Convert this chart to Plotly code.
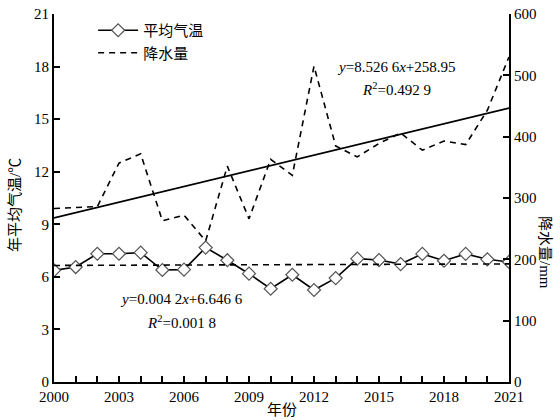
import plotly.graph_objects as go

years = [2000, 2001, 2002, 2003, 2004, 2005, 2006, 2007, 2008, 2009, 2010,
         2011, 2012, 2013, 2014, 2015, 2016, 2017, 2018, 2019, 2020, 2021]
temperature = [6.37, 6.56, 7.32, 7.32, 7.38, 6.39, 6.41, 7.67, 6.95, 6.18, 5.32,
               6.12, 5.25, 5.93, 7.04, 6.96, 6.73, 7.31, 6.92, 7.31, 7.00, 6.85]
precipitation = [283, 284, 286, 357, 372, 263, 272, 230, 352, 266, 363,
                 337, 515, 385, 367, 389, 406, 378, 393, 387, 443, 530]

# fitted trend equations shown on the chart (x = 1 for 2000)
temp_slope, temp_intercept = 0.0042, 6.6466
prec_slope, prec_intercept = 8.5266, 258.95

idx = [y - years[0] + 1 for y in years]
temp_trend = [temp_slope * i + temp_intercept for i in idx]
prec_trend = [prec_slope * i + prec_intercept for i in idx]

FONT = "Liberation Serif, Noto Sans CJK SC"

fig = go.Figure()
fig.add_trace(go.Scatter(
    x=years, y=temperature, name="平均气温", mode="lines+markers",
    line=dict(color="black", width=1.6),
    marker=dict(symbol="diamond", size=10, color="white",
                line=dict(color="#555555", width=1.2)),
))
fig.add_trace(go.Scatter(
    x=years, y=precipitation, name="降水量", mode="lines", yaxis="y2",
    line=dict(color="black", width=1.6, dash="6px,5px"),
))
fig.add_trace(go.Scatter(
    x=years, y=temp_trend, mode="lines", showlegend=False,
    line=dict(color="black", width=1.6, dash="6px,5px"),
))
fig.add_trace(go.Scatter(
    x=years, y=prec_trend, mode="lines", yaxis="y2", showlegend=False,
    line=dict(color="black", width=1.8),
))

annots = [
    (2015.83, 17.95, "<i>y</i>=8.526 6<i>x</i>+258.95"),
    (2015.83, 16.7, "<i>R</i><sup>2</sup>=0.492 9"),
    (2005.9, 4.73, "<i>y</i>=0.004 2<i>x</i>+6.646 6"),
    (2005.9, 3.42, "<i>R</i><sup>2</sup>=0.001 8"),
]
for ax_, ay_, t in annots:
    fig.add_annotation(x=ax_, y=ay_, xref="x", yref="y", text=t, showarrow=False,
                       xanchor="center", yanchor="middle",
                       font=dict(family=FONT, size=15, color="black"))

W, H = 560, 420
L, R, T, B = 54, 51, 14, 38
pw, ph = W - L - R, H - T - B


def px(xp):
    return (xp - L) / pw


def py(yp):
    return (H - B - yp) / ph


for xx, yy, txt, ang in [(15, 205, "年平均气温/℃", -90),
                         (545, 252, "降水量/mm", 90),
                         (282, 410, "年份", 0)]:
    fig.add_annotation(x=px(xx), y=py(yy), xref="paper", yref="paper",
                       text=txt, textangle=ang, showarrow=False,
                       xanchor="center", yanchor="middle",
                       font=dict(family=FONT, size=15, color="black"))

fig.update_layout(
    width=W, height=H,
    margin=dict(l=L, r=R, t=T, b=B, autoexpand=False),
    paper_bgcolor="white", plot_bgcolor="white",
    font=dict(family=FONT, size=15, color="black"),
    showlegend=True,
    legend=dict(x=0.086, y=1.0, xanchor="left", yanchor="top",
                bgcolor="rgba(0,0,0,0)", font=dict(family=FONT, size=15),
                tracegroupgap=0, itemwidth=40),
    xaxis=dict(
        range=[2000, 2021], tick0=2000, dtick=3, ticks="inside", ticklen=6,
        tickwidth=1.5, tickcolor="black", showline=True, linecolor="black",
        linewidth=2, showgrid=False, zeroline=False, automargin=False,
        minor=dict(dtick=1, tick0=2000, ticks="inside", ticklen=6,
                   tickwidth=1.5, tickcolor="black", showgrid=False),
        tickfont=dict(size=15),
    ),
    yaxis=dict(
        range=[0, 21], tick0=0, dtick=3, ticks="inside", ticklen=6,
        tickwidth=1.5, tickcolor="black", showline=True, linecolor="black",
        linewidth=2, showgrid=False, zeroline=False, automargin=False,
        tickfont=dict(size=15),
    ),
    yaxis2=dict(
        range=[0, 600], tick0=0, dtick=100, overlaying="y", side="right",
        ticks="inside", ticklen=6, tickwidth=1.5, tickcolor="black",
        showline=True, linecolor="black", linewidth=2, showgrid=False,
        zeroline=False, automargin=False,
        tickfont=dict(size=15),
    ),
)

fig.write_html("out.html", config={"displayModeBar": False},
               post_script="document.body.style.margin='0';document.body.style.padding='0';")
